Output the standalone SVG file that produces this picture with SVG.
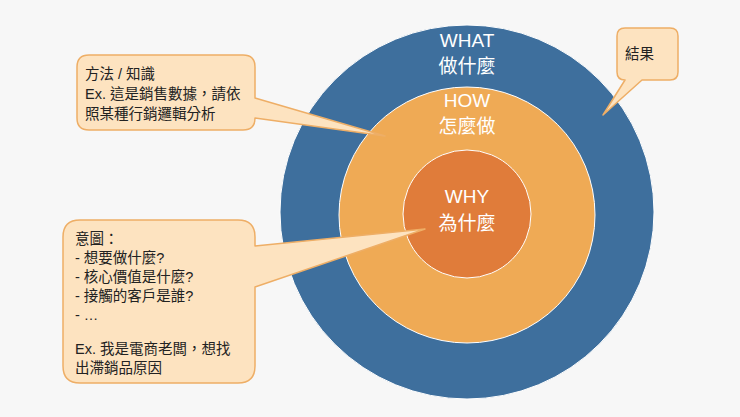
<svg xmlns="http://www.w3.org/2000/svg" width="740" height="417" viewBox="0 0 740 417">
<style>
.c{fill:#fde3c0;stroke:#eeae66;stroke-width:1.5;stroke-linejoin:round}
.t{font-family:"Liberation Sans","Noto Sans CJK TC",sans-serif;font-size:14.5px;fill:#222}
.w{font-family:"Liberation Sans","Noto Sans CJK TC",sans-serif;font-size:19px;fill:#fff;text-anchor:middle}
</style>
<rect width="740" height="417" fill="#f7f7f7"/>
<g id="what"><circle cx="467" cy="212" r="187" fill="#3e6f9d" stroke="#fff" stroke-width="1"/>
<text class="w" x="467" y="47">WHAT</text><text class="w" x="467" y="73">做什麼</text></g>
<g id="how"><circle cx="467" cy="215" r="128" fill="#efaa55" stroke="#fff" stroke-width="1"/>
<text class="w" x="467" y="107">HOW</text><text class="w" x="467" y="133">怎麼做</text></g>
<g id="why"><circle cx="467" cy="214" r="64" fill="#e07c3a" stroke="#fff" stroke-width="1"/>
<text class="w" x="467" y="203">WHY</text><text class="w" x="467" y="230">為什麼</text></g>
<g id="callout-method"><path class="c" d="M89 55 H243 Q255 55 255 67 V98 L385 136 L255 118 V118 Q255 130 243 130 H89 Q77 130 77 118 V67 Q77 55 89 55 Z"/>
<text class="t" x="85" y="79">方法 / 知識</text><text class="t" x="85" y="99">Ex. 這是銷售數據，請依</text><text class="t" x="85" y="119">照某種行銷邏輯分析</text></g>
<g id="callout-intent"><path class="c" d="M80 220 H238 Q255 220 255 237 V246 L425 229 L255 287 V366 Q255 383 238 383 H80 Q63 383 63 366 V237 Q63 220 80 220 Z"/>
<text class="t" x="75" y="244">意圖：</text><text class="t" x="75" y="263">- 想要做什麼?</text><text class="t" x="75" y="282">- 核心價值是什麼?</text><text class="t" x="75" y="301">- 接觸的客戶是誰?</text><text class="t" x="75" y="320">-    …</text>
<text class="t" x="75" y="354">Ex. 我是電商老闆，想找</text><text class="t" x="75" y="373">出滯銷品原因</text></g>
<g id="callout-result"><path class="c" d="M625 28 H670 Q678 28 678 36 V72 Q678 80 670 80 H642 L603 115 L625 80 Q617 80 617 72 V36 Q617 28 625 28 Z"/>
<text class="t" x="625" y="59">結果</text></g>
<g id="connectors"/>
</svg>
